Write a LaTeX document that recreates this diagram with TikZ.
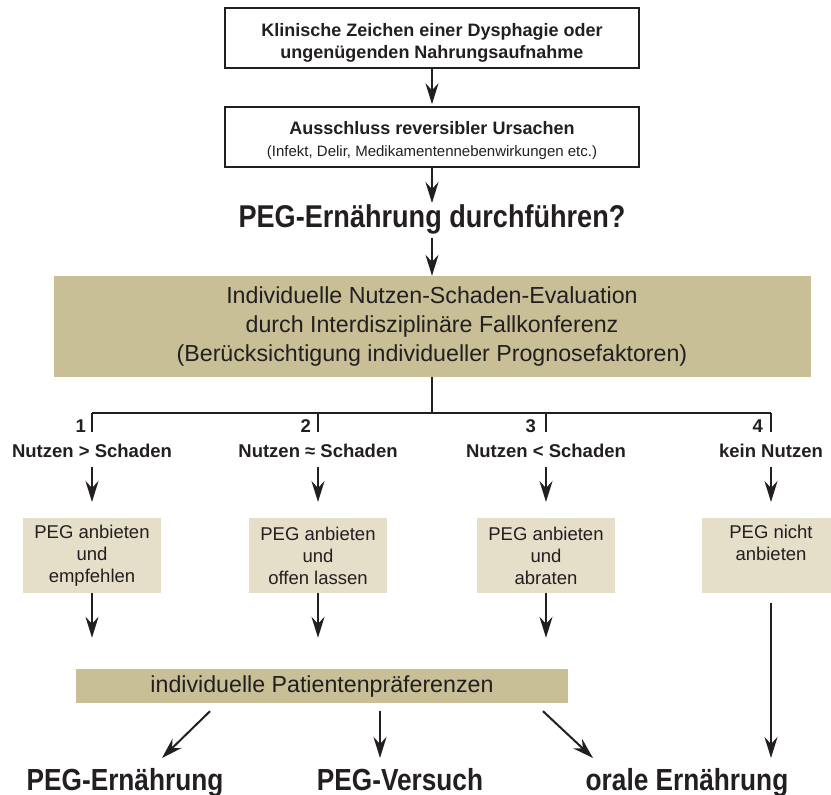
\documentclass[tikz,border=0pt]{standalone}
\usepackage{fontspec}
\setmainfont{Liberation Sans}
\newfontfamily\schmal[FakeStretch=0.86]{Liberation Sans}
\usetikzlibrary{arrows.meta}

\definecolor{dunkel}{RGB}{35,31,32}
\definecolor{oliv}{RGB}{200,191,151}
\definecolor{sand}{RGB}{229,222,201}

\tikzset{
  rahmen/.style={draw=dunkel, line width=1.5pt, minimum width=414pt, minimum height=60pt, align=center, inner sep=0pt, text=dunkel},
  option/.style={fill=sand, minimum width=138pt, minimum height=75pt, align=center, inner sep=0pt, anchor=north, text=dunkel, font=\fontsize{18.5}{22}\selectfont},
  fall/.style={anchor=base, inner sep=0pt, text=dunkel, font=\bfseries\fontsize{18.5}{22}\selectfont},
  ergebnis/.style={anchor=base, inner sep=0pt, text=dunkel, font=\schmal\bfseries\fontsize{30.5}{36}\selectfont},
  pfeil/.style={->, draw=dunkel, line width=2pt},
  linie/.style={draw=dunkel, line width=2pt}
}

\begin{document}
\begin{tikzpicture}[x=1pt, y=-1pt, >={Stealth[length=21pt, width=13pt, inset=7pt]}]

        \useasboundingbox (0,0) rectangle (831,795);

        % nodes
        \node[rahmen, font=\bfseries\fontsize{18}{22}\selectfont] (klinik) at (432,38) {\rule{0pt}{23pt}Klinische Zeichen einer Dysphagie oder\\ungenügenden Nahrungsaufnahme};
        \node[rahmen, font=\fontsize{15}{22}\selectfont] (ausschluss) at (432,137) {{\bfseries\fontsize{18}{22}\selectfont\rule{0pt}{21pt}Ausschluss reversibler Ursachen}\\(Infekt, Delir, Medikamentennebenwirkungen etc.)};
        \node[anchor=base, inner sep=0pt, text=dunkel, font=\schmal\bfseries\fontsize{31.5}{36}\selectfont] (frage) at (432,227) {PEG-Ernährung durchführen?};
        \node[fill=oliv, minimum width=757pt, minimum height=101pt, align=center, inner sep=0pt, text=dunkel, font=\fontsize{23.2}{29}\selectfont] (evaluation) at (432,326.5) {Individuelle Nutzen-Schaden-Evaluation\\durch Interdisziplinäre Fallkonferenz\\(Berücksichtigung individueller Prognosefaktoren)};

        % branch
        \coordinate (knoten) at (432,413);
        \coordinate (ast1) at (92,413);
        \coordinate (ast2) at (318,413);
        \coordinate (ast3) at (546,413);
        \coordinate (ast4) at (771,413);
        \draw[linie] (evaluation.south) -- (knoten);
        \draw[linie] (ast1) -- (ast4);
        \draw[linie] (ast1) -- ++(0,19);
        \draw[linie] (ast2) -- ++(0,19);
        \draw[linie] (ast3) -- ++(0,19);
        \draw[linie] (ast4) -- ++(0,19);

        \node[fall, anchor=base east] (nr1) at (86,432) {1};
        \node[fall, anchor=base east] (nr2) at (311,432) {2};
        \node[fall, anchor=base east] (nr3) at (536,432) {3};
        \node[fall, anchor=base east] (nr4) at (763,432) {4};

        \node[fall] (fall1) at (92,457) {Nutzen > Schaden};
        \node[fall] (fall2) at (318,457) {Nutzen ≈ Schaden};
        \node[fall] (fall3) at (546,457) {Nutzen < Schaden};
        \node[fall] (fall4) at (771,457) {kein Nutzen};

        \node[option] (opt1) at (92,518) {PEG anbieten\\und\\empfehlen};
        \node[option] (opt2) at (318,518) {PEG anbieten\\und\\offen lassen};
        \node[option] (opt3) at (546,518) {PEG anbieten\\und\\abraten};
        \node[option] (opt4) at (771,518) {PEG nicht\\anbieten\\\phantom{empfehlen}};

        \node[fill=oliv, minimum width=492pt, minimum height=34pt, inner sep=0pt, text=dunkel, font=\fontsize{23.2}{29}\selectfont] (praef) at (322,686) {individuelle Patientenpräferenzen};

        \node[ergebnis] (ergA) at (125,790) {PEG-Ernährung};
        \node[ergebnis] (ergB) at (400,790) {PEG-Versuch};
        \node[ergebnis] (ergC) at (687,790) {orale Ernährung};

        % edges top
        \draw[pfeil, shorten >=2pt] (klinik) -- (ausschluss);
        \draw[pfeil, shorten >=24pt] (ausschluss) -- (frage.base);
        \draw[pfeil, shorten <=11pt] (frage.base) -- (evaluation);

        % edges to options
        \draw[pfeil, shorten <=10pt, shorten >=16pt] (fall1) -- (opt1);
        \draw[pfeil, shorten <=10pt, shorten >=16pt] (fall2) -- (opt2);
        \draw[pfeil, shorten <=10pt, shorten >=16pt] (fall3) -- (opt3);
        \draw[pfeil, shorten <=10pt, shorten >=16pt] (fall4) -- (opt4);

        % edges to preferences
        \draw[pfeil, shorten >=31pt] (opt1.south) -- (opt1.south |- praef.north);
        \draw[pfeil, shorten >=31pt] (opt2.south) -- (opt2.south |- praef.north);
        \draw[pfeil, shorten >=31pt] (opt3.south) -- (opt3.south |- praef.north);

        % edges to results
        \draw[pfeil] ([xshift=-112pt, yshift=-8pt]praef.south) -- ([xshift=37pt, yshift=32pt]ergA.base);
        \draw[pfeil] ([xshift=58pt, yshift=-8pt]praef.south) -- ([xshift=-20pt, yshift=32pt]ergB.base);
        \draw[pfeil] ([xshift=221pt, yshift=-8pt]praef.south) -- ([xshift=-94pt, yshift=32pt]ergC.base);
        \draw[pfeil, shorten <=10pt, shorten >=32pt] (opt4.south) -- (opt4.south |- ergC.base);

\end{tikzpicture}
\end{document}
